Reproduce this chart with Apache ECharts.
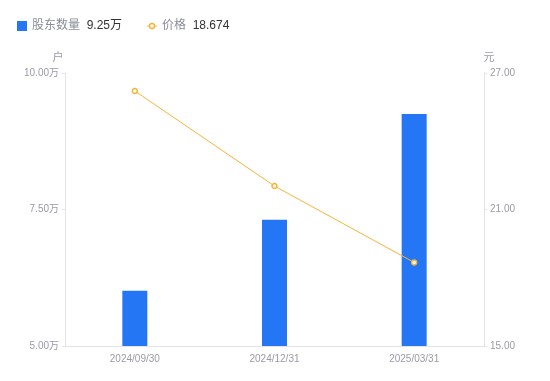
<!DOCTYPE html>
<html><head><meta charset="utf-8">
<script src="https://cdn.jsdelivr.net/npm/echarts@6/dist/echarts.min.js"></script>
<style>html,body{margin:0;padding:0;background:#fff}#c{width:550px;height:381px}</style>
</head><body><div id="c"></div>
<script>
const categories = ['2024/09/30', '2024/12/31', '2025/03/31'];
const holders = [60100, 73100, 92500];
const prices = [26.21, 22.03, 18.674];
const leftTicks = { min: 50000, max: 100000, interval: 25000 };
const rightTicks = { min: 15, max: 27, interval: 6 };

const chart = echarts.init(document.getElementById('c'));
const font = '"Liberation Sans", Arial, "Noto Sans CJK SC", sans-serif';
const lastH = (holders[holders.length - 1] / 10000).toFixed(2) + '万';
const lastP = prices[prices.length - 1];
const lineIcon = 'path://M0,0L0,0ZM10,10L10,10ZM0,4.5H2.2V5.5H0ZM7.8,4.5H10V5.5H7.8ZM5,1.8A3.2,3.2 0 1,1 4.99,1.8ZM5,3.2A1.8,1.8 0 1,0 5.01,3.2Z';
chart.setOption({
  animation: false,
  textStyle: { fontFamily: font },
  legend: {
    left: 12, top: 15, itemWidth: 10, itemHeight: 10, itemGap: 25,
    data: [
      { name: '股东数量', icon: 'rect' },
      { name: '价格', icon: lineIcon, itemStyle: { color: '#f7b335', borderWidth: 0 } }
    ],
    formatter: function (n) {
      return n === '股东数量' ? '{a|' + n + '}  {b|' + lastH + '}' : '{a|' + n + '}  {b|' + lastP + '}';
    },
    textStyle: {
      rich: {
        a: { color: '#8a8d99', fontSize: 12, fontFamily: font },
        b: { color: '#333', fontSize: 12, fontFamily: font }
      }
    }
  },
  grid: { left: 65, right: 66, top: 73, bottom: 35 },
  xAxis: {
    type: 'category', data: categories,
    axisLine: { lineStyle: { color: '#e3e3e8' } },
    axisTick: { show: false },
    axisLabel: { color: '#9a9aa6', fontSize: 10, margin: 8 }
  },
  yAxis: [
    {
      type: 'value', name: '户', nameGap: 10,
      nameTextStyle: { color: '#9a9aa6', fontSize: 11, padding: [0, 0, 0, -14] },
      min: leftTicks.min, max: leftTicks.max, interval: leftTicks.interval,
      axisLine: { show: true, lineStyle: { color: '#e3e3e8' } },
      axisTick: { show: true, length: 3, lineStyle: { color: '#e3e3e8' } },
      splitLine: { show: false },
      axisLabel: { color: '#9a9aa6', fontSize: 10, margin: 6,
        formatter: v => (v / 10000).toFixed(2) + '万' }
    },
    {
      type: 'value', name: '元', nameGap: 10,
      nameTextStyle: { color: '#9a9aa6', fontSize: 11, padding: [0, 0, 0, 10] },
      min: rightTicks.min, max: rightTicks.max, interval: rightTicks.interval,
      axisLine: { show: true, lineStyle: { color: '#e3e3e8' } },
      axisTick: { show: true, length: 3, lineStyle: { color: '#e3e3e8' } },
      splitLine: { show: false },
      axisLabel: { color: '#9a9aa6', fontSize: 10, margin: 6,
        formatter: v => v.toFixed(2) }
    }
  ],
  series: [
    {
      name: '股东数量', type: 'bar', data: holders, barWidth: 25,
      itemStyle: { color: '#2476f4' }
    },
    {
      name: '价格', type: 'line', yAxisIndex: 1, data: prices,
      symbol: 'circle', symbolSize: 5,
      lineStyle: { color: '#f7b335', width: 1 },
      itemStyle: { color: '#fff', borderColor: '#f7b335', borderWidth: 1.5 }
    }
  ]
});
</script></body></html>
